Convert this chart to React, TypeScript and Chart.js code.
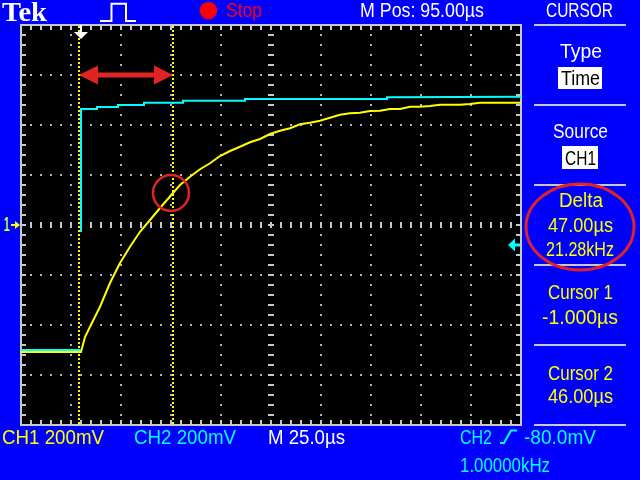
import React, { useEffect, useLayoutEffect, useRef } from "react";
import { Chart, registerables } from "chart.js";

Chart.register(...registerables);

// ---------- data (time in µs, voltage in mV) ----------
const timeMin = -30;
const timeMax = 220; // 25 µs/div, 10 div
const voltMin = -800;
const voltMax = 800; // 200 mV/div, 8 div
const gridTimes = [-30, -5, 20, 45, 70, 95, 120, 145, 170, 195, 220];
const gridVolts = [-800, -600, -400, -200, 0, 200, 400, 600, 800];
const minorTimeStep = 5;
const minorVoltStep = 40;
const centerTime = 95; // M Pos
const centerVolt = 0;

const ch1Times = [-30, 0, 2, 4.5, 9.5, 14.5, 19.5, 24.5, 29.5, 34.5, 39.5, 46, 49.5, 54.5, 59.5, 64.5, 69.5, 74.5, 79.5, 84.5, 89.5, 94.5, 99.5, 104.5, 109.5, 114.5, 119.5, 124.5, 129.5, 134.5, 139.5, 144.5, 149.5, 154.5, 159.5, 164.5, 169.5, 174.5, 179.5, 189.5, 194.5, 199.5, 220];
const ch1Volts = [-508, -508, -448, -407, -327, -232, -152, -87, -27, 20, 68, 128, 160, 193, 223, 247, 276, 296, 313, 331, 344, 364, 377, 387, 403, 409, 417, 429, 441, 447, 449, 456, 457, 464, 464, 473, 473, 476, 481, 481, 484, 489, 489];

const ch2Times = [-30, 0, 0, 0, 0, 8, 8, 18.5, 18.5, 31.5, 31.5, 51, 51, 82, 82, 153, 153, 220];
const ch2Volts = [-500, -500, null, -28, 464, 464, 472, 472, 480, 480, 489, 489, 497, 497, 504, 504, 511, 513];

const cursorTimes = [-1, 46];
const triggerTime = 0;
const triggerLevel = -80;
const arrowVolt = 600;
const circleTime = 45;
const circleVolt = 128;

// ---------- styles ----------
const BLUE = "#0000ff";
const YELLOW = "#ffff00";
const CYAN = "#00ffff";
const FRAME = "#c8c8c8";
const GRID = "#b4b4b4";
const MARK_RED = "#e02424";

type FontSpec = { family: string; asc: number; desc: number; cap: number; weight: number };
const SANS: FontSpec = { family: '"Liberation Sans", Arial, sans-serif', asc: 0.905, desc: 0.212, cap: 0.716, weight: 400 };
const SERIF: FontSpec = { family: '"Liberation Serif", "Times New Roman", serif', asc: 0.891, desc: 0.216, cap: 0.662, weight: 700 };

function Txt(props: {
  text: string;
  left: number;
  right: number;
  capTop: number;
  color: string;
  capH?: number;
  font?: FontSpec;
  shadow?: string;
}) {
  const { text, left, right, capTop, color, capH = 14.7, font = SANS, shadow } = props;
  const size = capH / font.cap;
  const top = capTop - ((1 - font.asc - font.desc) / 2 + font.asc - font.cap) * size;
  const ref = useRef<HTMLSpanElement>(null);
  useLayoutEffect(() => {
    const fit = () => {
      const el = ref.current;
      if (!el) return;
      el.style.transform = "none";
      const w = el.getBoundingClientRect().width;
      if (w > 0) el.style.transform = `scaleX(${(right - left) / w})`;
    };
    fit();
    const fonts = (document as any).fonts;
    if (fonts && fonts.ready) fonts.ready.then(fit);
  }, [left, right, text]);
  return (
    <span
      ref={ref}
      style={{
        position: "absolute",
        left,
        top,
        fontFamily: font.family,
        fontWeight: font.weight,
        fontSize: size,
        lineHeight: `${size}px`,
        color,
        whiteSpace: "nowrap",
        display: "inline-block",
        transformOrigin: "0 0",
        textShadow: shadow,
      }}
    >
      {text}
    </span>
  );
}

const scopePlugin = {
  id: "scopeScreen",
  beforeDraw(chart: any) {
    const { ctx, chartArea: a } = chart;
    ctx.save();
    ctx.fillStyle = "#000000";
    ctx.fillRect(a.left, a.top, a.right - a.left, a.bottom - a.top);
    ctx.restore();
  },
  beforeDatasetsDraw(chart: any) {
    const { ctx, chartArea: a } = chart;
    const x = chart.scales.x;
    const y = chart.scales.y;
    ctx.save();
    ctx.fillStyle = FRAME;
    const cx = Math.round(x.getPixelForValue(centerTime));
    const cy = Math.round(y.getPixelForValue(centerVolt));
    for (let t = timeMin; t <= timeMax + 1e-9; t += minorTimeStep) {
      const px = Math.round(x.getPixelForValue(t));
      ctx.fillRect(px - 1, cy - 3, 2, 6);
      ctx.fillRect(px - 1, a.top + 1, 2, 4);
      ctx.fillRect(px - 1, a.bottom - 5, 2, 4);
    }
    for (let v = voltMin; v <= voltMax + 1e-9; v += minorVoltStep) {
      const py = Math.round(y.getPixelForValue(v));
      ctx.fillRect(cx - 3, py - 1, 6, 2);
      ctx.fillRect(a.left + 1, py - 1, 4, 2);
      ctx.fillRect(a.right - 5, py - 1, 4, 2);
    }
    // frame
    ctx.fillRect(a.left - 1, a.top - 1, a.right - a.left + 2, 2);
    ctx.fillRect(a.left - 1, a.bottom - 1, a.right - a.left + 2, 2);
    ctx.fillRect(a.left - 1, a.top - 1, 2, a.bottom - a.top + 2);
    ctx.fillRect(a.right - 1, a.top - 1, 2, a.bottom - a.top + 2);
    // cursors
    ctx.strokeStyle = YELLOW;
    ctx.lineWidth = 2;
    ctx.setLineDash([2, 2]);
    for (const t of cursorTimes) {
      const px = Math.round(x.getPixelForValue(t));
      ctx.beginPath();
      ctx.moveTo(px, a.top + 1);
      ctx.lineTo(px, a.bottom - 1);
      ctx.stroke();
    }
    ctx.restore();
  },
  afterDatasetsDraw(chart: any) {
    const { ctx, chartArea: a } = chart;
    const x = chart.scales.x;
    const y = chart.scales.y;
    ctx.save();
    // red circle
    ctx.strokeStyle = MARK_RED;
    ctx.lineWidth = 2.5;
    ctx.beginPath();
    ctx.arc(x.getPixelForValue(circleTime), y.getPixelForValue(circleVolt), 18, 0, Math.PI * 2);
    ctx.stroke();
    // red double arrow between cursors
    const x1 = x.getPixelForValue(cursorTimes[0]);
    const x2 = x.getPixelForValue(cursorTimes[1]);
    const ya = y.getPixelForValue(arrowVolt);
    ctx.fillStyle = MARK_RED;
    ctx.fillRect(x1 + 15, ya - 2.5, x2 - x1 - 30, 5);
    ctx.beginPath();
    ctx.moveTo(x1, ya);
    ctx.lineTo(x1 + 19, ya - 9.5);
    ctx.lineTo(x1 + 19, ya + 9.5);
    ctx.closePath();
    ctx.fill();
    ctx.beginPath();
    ctx.moveTo(x2, ya);
    ctx.lineTo(x2 - 19, ya - 9.5);
    ctx.lineTo(x2 - 19, ya + 9.5);
    ctx.closePath();
    ctx.fill();
    // trigger position marker (white)
    const tx = Math.round(x.getPixelForValue(triggerTime));
    ctx.fillStyle = "#ffffff";
    ctx.fillRect(tx - 1, a.top, 2, 8);
    ctx.beginPath();
    ctx.moveTo(tx - 7, a.top + 7);
    ctx.lineTo(tx + 7, a.top + 7);
    ctx.lineTo(tx, a.top + 14);
    ctx.closePath();
    ctx.fill();
    // trigger level marker (cyan, right edge)
    const ly = y.getPixelForValue(triggerLevel);
    ctx.fillStyle = CYAN;
    ctx.beginPath();
    ctx.moveTo(a.right - 13, ly);
    ctx.lineTo(a.right - 6, ly - 6.5);
    ctx.lineTo(a.right - 6, ly + 6.5);
    ctx.closePath();
    ctx.fill();
    ctx.fillRect(a.right - 7, ly - 1.5, 6, 3);
    // channel ground marker (left)
    const gy = y.getPixelForValue(centerVolt);
    ctx.fillStyle = YELLOW;
    ctx.beginPath();
    ctx.moveTo(a.left - 1, gy);
    ctx.lineTo(a.left - 6, gy - 4);
    ctx.lineTo(a.left - 6, gy + 4);
    ctx.closePath();
    ctx.fill();
    ctx.fillRect(a.left - 10, gy - 1, 5, 2);
    ctx.restore();
  },
};

function ScopeChart() {
  const canvasRef = useRef<HTMLCanvasElement>(null);
  useEffect(() => {
    const canvas = canvasRef.current;
    if (!canvas) return;
    const ch1 = ch1Times.map((t, i) => ({ x: t, y: ch1Volts[i] }));
    const ch2 = ch2Times.map((t, i) => ({ x: t, y: ch2Volts[i] }));
    const chart = new Chart(canvas, {
      type: "line",
      data: {
        datasets: [
          {
            label: "CH2",
            data: ch2 as any,
            borderColor: CYAN,
            borderWidth: 2,
            pointRadius: 0,
            tension: 0,
            spanGaps: false,
            order: 0,
          },
          {
            label: "CH1",
            data: ch1 as any,
            borderColor: YELLOW,
            borderWidth: 2,
            pointRadius: 0,
            tension: 0,
            order: 1,
          },
        ],
      },
      options: {
        animation: false,
        responsive: false,
        devicePixelRatio: 1,
        events: [],
        layout: { padding: { left: 21, top: 25, right: 119, bottom: 55 } },
        plugins: { legend: { display: false }, tooltip: { enabled: false } },
        scales: {
          x: {
            type: "linear",
            min: timeMin,
            max: timeMax,
            afterFit: (s: any) => {
              s.height = 0;
            },
            afterBuildTicks: (s: any) => {
              s.ticks = gridTimes.map((v) => ({ value: v }));
            },
            ticks: { display: false },
            grid: { color: GRID, lineWidth: 2, drawTicks: false },
            border: { display: false, dash: [2, 8], dashOffset: 1 },
          },
          y: {
            type: "linear",
            min: voltMin,
            max: voltMax,
            afterFit: (s: any) => {
              s.width = 0;
            },
            afterBuildTicks: (s: any) => {
              s.ticks = gridVolts.map((v) => ({ value: v }));
            },
            ticks: { display: false },
            grid: { color: GRID, lineWidth: 2, drawTicks: false },
            border: { display: false, dash: [2, 8], dashOffset: 1 },
          },
        },
      } as any,
      plugins: [scopePlugin as any],
    });
    return () => chart.destroy();
  }, []);
  return (
    <canvas
      ref={canvasRef}
      width={640}
      height={480}
      style={{ position: "absolute", left: 0, top: 0, width: 640, height: 480 }}
    />
  );
}

export default function App() {
  const sep = [25, 105, 185, 265, 345, 425];
  return (
    <div
      style={{
        position: "fixed",
        left: 0,
        top: 0,
        width: 640,
        height: 480,
        background: BLUE,
        overflow: "hidden",
      }}
    >
      <ScopeChart />
      {/* header */}
      <Txt text="Tek" left={2} right={47} capTop={2.7} capH={18.3} font={SERIF} color="#ffffff" />
      <Txt text="Stop" left={226} right={262} capTop={2.7} color="#ff0000" />
      <Txt text="M Pos: 95.00µs" left={360} right={484} capTop={2.7} color="#ffffff" />
      <Txt text="CURSOR" left={546} right={613} capTop={2.7} color="#ffffff" />
      {/* right menu */}
      {sep.map((yy) => (
        <div key={yy} style={{ position: "absolute", left: 534, top: yy - 1, width: 92, height: 2, background: FRAME }} />
      ))}
      <Txt text="Type" left={560} right={602} capTop={44} color="#ffffff" />
      <div style={{ position: "absolute", left: 558, top: 67, width: 44, height: 22, background: "#ffffff" }} />
      <Txt text="Time" left={561} right={600} capTop={70.5} color="#000000" />
      <Txt text="Source" left={553} right={608} capTop={123.5} color="#ffffff" />
      <div style={{ position: "absolute", left: 562, top: 146, width: 36, height: 23, background: "#ffffff" }} />
      <Txt text="CH1" left={565} right={596} capTop={150.5} color="#000000" />
      <Txt text="Delta" left={559} right={603} capTop={192.5} color={YELLOW} />
      <Txt text="47.00µs" left={548} right={613} capTop={217.5} color={YELLOW} />
      <Txt text="21.28kHz" left={546} right={614} capTop={241.5} color={YELLOW} />
      <Txt text="Cursor 1" left={548} right={613} capTop={284.5} color={YELLOW} />
      <Txt text="-1.000µs" left={542} right={618} capTop={309.5} color={YELLOW} />
      <Txt text="Cursor 2" left={548} right={613} capTop={365.5} color={YELLOW} />
      <Txt text="46.00µs" left={548} right={613} capTop={389} color={YELLOW} />
      {/* bottom status */}
      <Txt text="CH1 200mV" left={2} right={104} capTop={429.3} color={YELLOW} />
      <Txt text="CH2 200mV" left={134} right={236} capTop={429.3} color={CYAN} />
      <Txt text="M 25.0µs" left={268} right={345} capTop={429.3} color="#ffffff" />
      <Txt text="CH2" left={460} right={492} capTop={429.3} color={CYAN} />
      <Txt text="-80.0mV" left={524} right={596} capTop={429.3} color={CYAN} />
      <Txt text="1.00000kHz" left={460} right={550} capTop={458} color={CYAN} />
      {/* ground marker label */}
      <Txt text="1" left={4} right={10} capTop={218} capH={14} color={YELLOW} shadow={`-1px 0 ${CYAN}`} />
      {/* vector overlays */}
      <svg
        width={640}
        height={480}
        style={{ position: "absolute", left: 0, top: 0, pointerEvents: "none" }}
      >
        <polyline
          points="100,21 111.5,21 111.5,3.7 126,3.7 126,21 136,21"
          fill="none"
          stroke="#ffffff"
          strokeWidth={2}
        />
        <circle cx={208.5} cy={10.5} r={8.7} fill="#ff0000" />
        <polyline
          points="500,443 504,443 511,430.5 517,430.5"
          fill="none"
          stroke={CYAN}
          strokeWidth={2}
        />
        <ellipse cx={580} cy={227} rx={54} ry={43} fill="none" stroke={MARK_RED} strokeWidth={3} />
      </svg>
    </div>
  );
}
